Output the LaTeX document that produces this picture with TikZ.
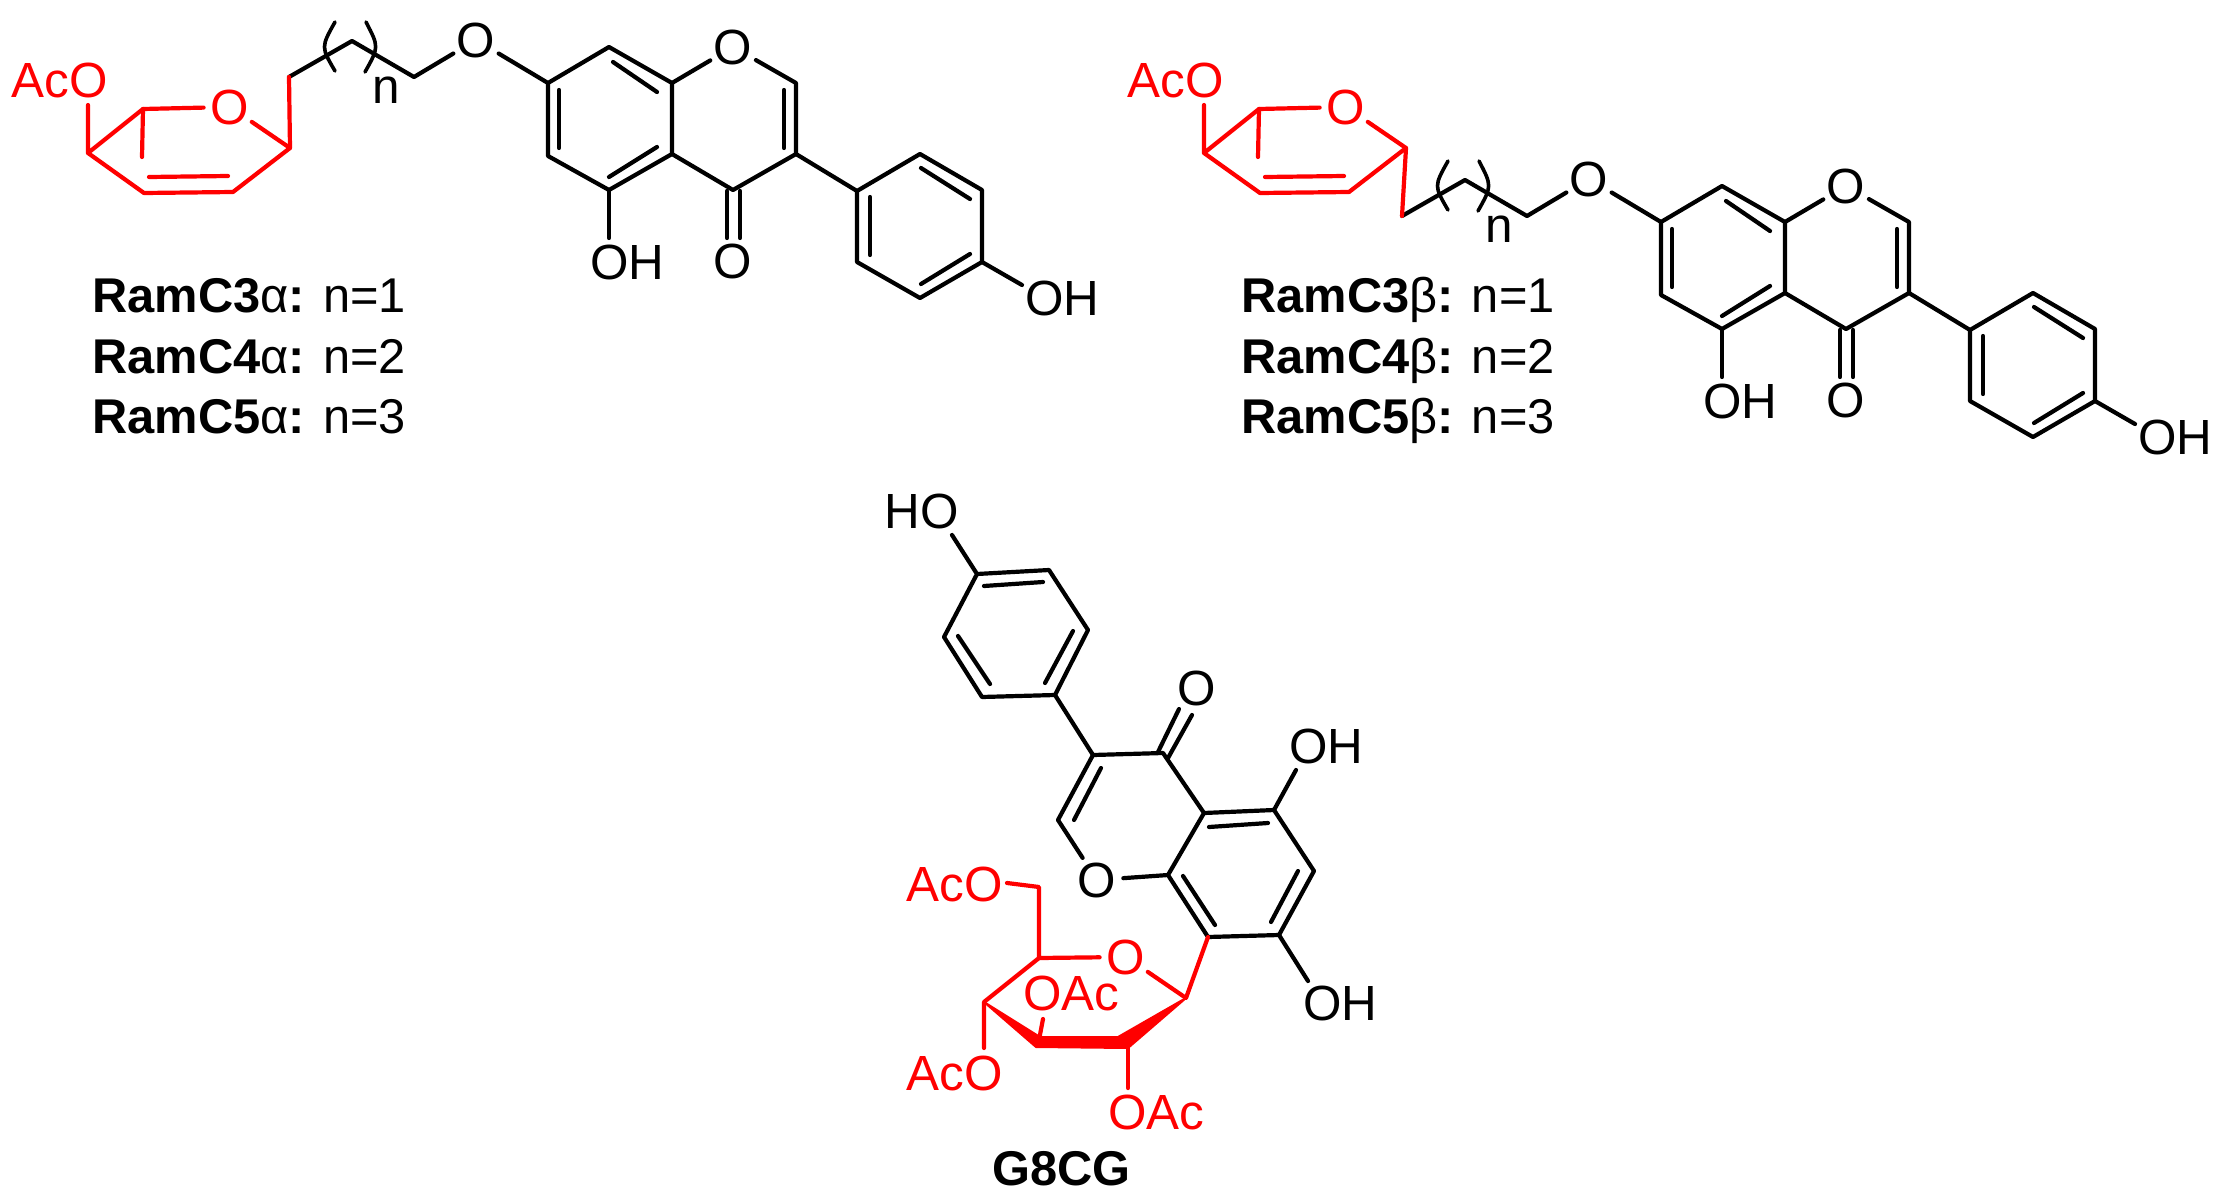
\documentclass[tikz,border=0pt]{standalone}
\usepackage{fontspec}
\setmainfont{Liberation Sans}
\tikzset{
    bondk/.style = {line width=2.1pt,black,line cap=round,line join=round},
    bondr/.style = {line width=2.1pt,red,line cap=round,line join=round},
    parens/.style = {line width=1.8pt,black,line cap=round},
    atomk/.style = {circle,inner sep=0pt,minimum size=26pt,black,font=\fontsize{24.7}{28}\selectfont},
    atomr/.style = {circle,inner sep=0pt,minimum size=26pt,red,font=\fontsize{24.7}{28}\selectfont},
    lblk/.style = {inner sep=0pt,anchor=base west,black,font=\fontsize{24.7}{28}\selectfont},
    lblr/.style = {inner sep=0pt,anchor=base west,red,font=\fontsize{24.7}{28}\selectfont},
    lblname/.style = {inner sep=0pt,anchor=base west,black,font=\fontsize{24.4}{28}\selectfont},
    wedger/.style = {red,fill=red,line width=1pt,line join=round}
}
\newcommand{\B}[1]{\textbf{#1}}
% 2,3-unsaturated ring, #1 = prefix
\newcommand{\enering}[1]{
\node[atomr] (#1o) at (230,107) {O};
\node[lblr] (#1aco) at (11,97) {AcO};
\coordinate (#1c1) at (88,153);
\coordinate (#1c1e) at (88,105);
\coordinate (#1c2) at (143,109);
\coordinate (#1c2s) at (142,157);
\coordinate (#1c3) at (144,193);
\coordinate (#1c4) at (233,192);
\coordinate (#1c5) at (290,148);
\coordinate (#1d1) at (149,177);
\coordinate (#1d2) at (228,176);
\draw[bondr] (#1c1e) -- (#1c1) -- (#1c2) -- (#1o);
\draw[bondr] (#1c2) -- (#1c2s);
\draw[bondr] (#1c1) -- (#1c3) -- (#1c4) -- (#1c5) -- (#1o);
\draw[bondr] (#1d1) -- (#1d2);
}
% chain and isoflavone, #1 = prefix
\newcommand{\chainflav}[1]{
\coordinate (#1m0) at (289,77);
\coordinate (#1m1) at (352,41);
\coordinate (#1m2) at (414,77);
\node[atomk] (#1o1) at (476,40) {O};
\node[lblk] (#1n) at (372,103) {n};
\coordinate (#1pa) at (335,22);
\coordinate (#1pb) at (321,47);
\coordinate (#1pc) at (335,71);
\coordinate (#1pd) at (366,22);
\coordinate (#1pe) at (379,47);
\coordinate (#1pf) at (365,72);
\draw[parens] (#1pa) .. controls (#1pb) .. (#1pc);
\draw[parens] (#1pd) .. controls (#1pe) .. (#1pf);
\draw[bondk] (#1m0) -- (#1m1) -- (#1m2) -- (#1o1);
%
\coordinate (#1c7) at (548,83);
\coordinate (#1c8) at (609,47);
\coordinate (#1c8a) at (672,83);
\coordinate (#1c4a) at (672,154);
\coordinate (#1c5) at (609,190);
\coordinate (#1c6) at (548,156);
\coordinate (#1c2) at (796,83);
\coordinate (#1c3) at (796,154);
\coordinate (#1c4) at (733,190);
\node[atomk] (#1o2) at (733,47) {O};
\node[atomk] (#1o3) at (733,261) {O};
\node[lblk] (#1oh1) at (590,279) {OH};
\node[lblk] (#1oh2) at (1025,315) {OH};
\draw[bondk] (#1o1) -- (#1c7) -- (#1c8) -- (#1c8a) -- (#1c4a) -- (#1c5) -- (#1c6) -- (#1c7);
\draw[bondk] (#1c8a) -- (#1o2) -- (#1c2) -- (#1c3) -- (#1c4) -- (#1c4a);
%
\coordinate (#1i1) at (559,90);
\coordinate (#1i2) at (559,148);
\coordinate (#1i3) at (613,62);
\coordinate (#1i4) at (657,92);
\coordinate (#1i5) at (609,177);
\coordinate (#1i6) at (657,147);
\coordinate (#1i7) at (784,90);
\coordinate (#1i8) at (784,148);
\draw[bondk] (#1i1) -- (#1i2);
\draw[bondk] (#1i3) -- (#1i4);
\draw[bondk] (#1i5) -- (#1i6);
\draw[bondk] (#1i7) -- (#1i8);
%
\coordinate (#1k1) at (727,191);
\coordinate (#1k2) at (727,238);
\coordinate (#1k3) at (740,191);
\coordinate (#1k4) at (740,238);
\coordinate (#1h1) at (609,238);
\coordinate (#1h2) at (1022,285);
\draw[bondk] (#1k1) -- (#1k2);
\draw[bondk] (#1k3) -- (#1k4);
\draw[bondk] (#1c5) -- (#1h1);
%
\coordinate (#1p1) at (857,191);
\coordinate (#1p2) at (920,154);
\coordinate (#1p3) at (982,190);
\coordinate (#1p4) at (982,262);
\coordinate (#1p5) at (920,298);
\coordinate (#1p6) at (857,262);
\draw[bondk] (#1c3) -- (#1p1) -- (#1p2) -- (#1p3) -- (#1p4) -- (#1p5) -- (#1p6) -- (#1p1);
\draw[bondk] (#1p4) -- (#1h2);
\coordinate (#1j1) at (870,197);
\coordinate (#1j2) at (870,255);
\coordinate (#1j3) at (921,168);
\coordinate (#1j4) at (970,199);
\coordinate (#1j5) at (921,284);
\coordinate (#1j6) at (970,254);
\draw[bondk] (#1j1) -- (#1j2);
\draw[bondk] (#1j3) -- (#1j4);
\draw[bondk] (#1j5) -- (#1j6);
}

\begin{document}
\begin{tikzpicture}[x=0.5pt,y=-0.5pt]
\useasboundingbox (0,0) rectangle (2228,1199);
% alpha series
\enering{a}
\chainflav{u}
\draw[bondr] (ac5) -- (um0);
\node[lblname] (lbla3) at (92,312) {\B{RamC3}α\B{:} n=1};
\node[lblname] (lbla4) at (92,373) {\B{RamC4}α\B{:} n=2};
\node[lblname] (lbla5) at (92,433) {\B{RamC5}α\B{:} n=3};
% beta series
\begin{scope}[shift={(1116,0)}]
\enering{b}
\end{scope}
\begin{scope}[shift={(1113,139)}]
\chainflav{v}
\end{scope}
\draw[bondr] (bc5) -- (vm0);
\node[lblname] (lblb3) at (1241,312) {\B{RamC3}β\B{:} n=1};
\node[lblname] (lblb4) at (1241,373) {\B{RamC4}β\B{:} n=2};
\node[lblname] (lblb5) at (1241,433) {\B{RamC5}β\B{:} n=3};
% G8CG
\node[lblk] (gho) at (884,528) {HO};
\coordinate (gh0) at (952,535);
\coordinate (gp1) at (977,574);
\coordinate (gp2) at (1049,570);
\coordinate (gp3) at (1088,630);
\coordinate (gp4) at (1055,695);
\coordinate (gp5) at (982,697);
\coordinate (gp6) at (944,637);
\draw[bondk] (gh0) -- (gp1) -- (gp2) -- (gp3) -- (gp4) -- (gp5) -- (gp6) -- (gp1);
\coordinate (gj1) at (984,586);
\coordinate (gj2) at (1043,582);
\coordinate (gj3) at (958,636);
\coordinate (gj4) at (990,684);
\coordinate (gj5) at (1073,631);
\coordinate (gj6) at (1045,683);
\draw[bondk] (gj1) -- (gj2);
\draw[bondk] (gj3) -- (gj4);
\draw[bondk] (gj5) -- (gj6);
%
\coordinate (gc3) at (1093,755);
\coordinate (gc4) at (1163,753);
\coordinate (gc2) at (1058,820);
\coordinate (gc4a) at (1204,813);
\coordinate (gc5) at (1274,810);
\coordinate (gc6) at (1314,871);
\coordinate (gc7) at (1279,935);
\coordinate (gc8) at (1208,937);
\coordinate (gc8a) at (1168,875);
\node[atomk] (goc) at (1097,880) {O};
\node[atomk] (gok) at (1197,688) {O};
\node[lblk] (goh5) at (1289,763) {OH};
\node[lblk] (goh7) at (1303,1020) {OH};
\draw[bondk] (gp4) -- (gc3) -- (gc4) -- (gc4a) -- (gc5) -- (gc6) -- (gc7) -- (gc8) -- (gc8a) -- (gc4a);
\draw[bondk] (gc8a) -- (goc) -- (gc2) -- (gc3);
\coordinate (gk1) at (1158,752);
\coordinate (gk2) at (1179,709);
\coordinate (gk3) at (1168,758);
\coordinate (gk4) at (1192,715);
\draw[bondk] (gk1) -- (gk2);
\draw[bondk] (gk3) -- (gk4);
\coordinate (gh5) at (1296,770);
\coordinate (gh7) at (1308,981);
\draw[bondk] (gc5) -- (gh5);
\draw[bondk] (gc7) -- (gh7);
\coordinate (gi1) at (1209,827);
\coordinate (gi2) at (1268,823);
\coordinate (gi3) at (1298,871);
\coordinate (gi4) at (1271,922);
\coordinate (gi5) at (1183,876);
\coordinate (gi6) at (1215,925);
\coordinate (gi7) at (1101,768);
\coordinate (gi8) at (1074,820);
\draw[bondk] (gi1) -- (gi2);
\draw[bondk] (gi3) -- (gi4);
\draw[bondk] (gi5) -- (gi6);
\draw[bondk] (gi7) -- (gi8);
% glucose ring
\node[atomr] (so) at (1126,957) {O};
\node[lblr] (saco6) at (906,901) {AcO};
\node[lblr] (saco4) at (906,1090) {AcO};
\node[lblr] (soac3) at (1023,1010) {OAc};
\node[lblr] (soac2) at (1108,1129) {OAc};
\coordinate (sc1) at (1186,998);
\coordinate (sc2) at (1128,1048);
\coordinate (sc2i) at (1118,1037);
\coordinate (sc3) at (1036,1047);
\coordinate (sc3i) at (1040,1037);
\coordinate (sc4) at (984,1002);
\coordinate (sc5) at (1039,958);
\coordinate (sc6) at (1039,887);
\coordinate (se6) at (1007,883);
\coordinate (se4) at (984,1048);
\coordinate (se3) at (1043,1019);
\coordinate (se3b) at (1039,1040);
\coordinate (se2) at (1128,1088);
\draw[bondr] (se6) -- (sc6) -- (sc5) -- (so) -- (sc1) -- (gc8);
\draw[bondr] (sc5) -- (sc4) -- (se4);
\draw[wedger] (sc4) -- (sc3) -- (sc2) -- (sc1) -- (sc2i) -- (sc3i) -- cycle;
\draw[bondr] (se3) -- (se3b);
\draw[bondr] (sc2) -- (se2);
\node[lblname] (gname) at (992,1185) {\B{G8CG}};
\end{tikzpicture}
\end{document}
